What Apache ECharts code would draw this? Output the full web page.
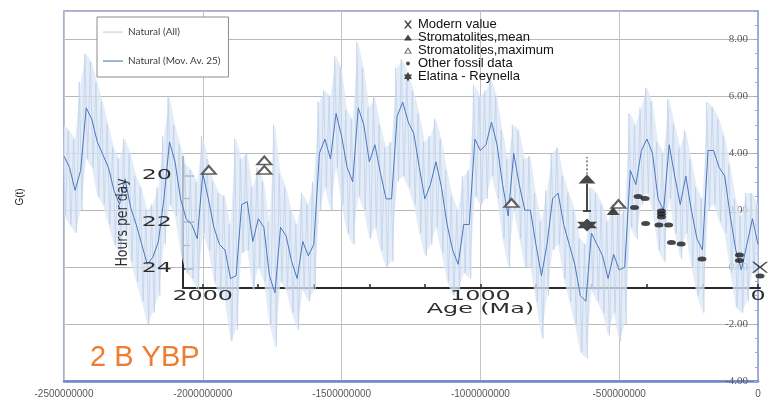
<!DOCTYPE html>
<html>
<head>
<meta charset="utf-8">
<script src="https://cdn.jsdelivr.net/npm/echarts@6/dist/echarts.min.js"></script>
<style>
  html, body { margin: 0; padding: 0; background: #fff; }
  #chart { width: 773px; height: 406px; }
</style>
</head>
<body>
<div id="chart"></div>
<script>
// G(t) samples every 20 Myr, from 2500 Ma ago to the present
const sampleStartMa = -2500;
const sampleStepMa = 20;

// 25-point moving average
const gMovAv = [
  3.9, 3.5, 2.7, 3.4, 5.6, 5.2, 4.4, 3.95, 3.5, 2.7,
  2.2, 3.1, 2.1, 1.5, 0.8, 0.1, 0.35, 0.9, 2.4, 4.4,
  3.7, 2.4, 1.7, 1.5, 1.0, 3.3, 2.4, 1.4, 0.8, 0.6,
  -0.4, -0.3, 2.2, 2.3, 0.9, 1.7, 1.4, -0.3, -0.9, 1.4,
  1.1, 0.2, -0.4, 0.9, 0.4, 0.8, 4.0, 4.5, 3.8, 5.4,
  4.6, 3.5, 3.0, 5.6, 5.0, 3.7, 4.3, 3.3, 2.4, 2.4,
  5.3, 5.8, 5.1, 4.7, 3.5, 2.4, 2.9, 3.7, 2.8, 1.5,
  0.6, 0.1, 1.5, 1.5, 4.5, 4.1, 4.3, 5.1, 4.3, 2.9,
  1.8, 4.0, 2.9, 2.0, 2.0, 0.8, -0.3, 0.8, 2.4, 2.6,
  1.5, 0.8, 0.1, -1.0, -1.2, 1.2, 0.8, 0.4, -0.4, 0.45,
  -0.1, 0.0, 3.4, 2.9, 4.1, 4.5, 4.0, 2.4, 2.0, 4.3,
  3.2, 2.2, 3.2, 2.0, 1.0, 0.6, 4.1, 4.1, 3.5, 3.2,
  1.8, 0.6, -0.1, 0.8, 1.7, 0.8
];

// Full series: upper and lower swing within each sample step
const gAllHigh = [
  5.0, 4.8, 4.5, 6.5, 7.5, 7.2, 6.5, 5.8, 5.0, 4.2,
  3.8, 4.5, 4.0, 3.2, 2.8, 2.0, 2.2, 2.8, 4.6, 6.0,
  5.0, 4.3, 3.6, 3.4, 3.0, 4.6, 3.8, 3.0, 2.6, 2.5,
  1.5, 4.5, 3.8, 4.0, 2.8, 3.5, 3.0, 1.6, 5.0, 3.3,
  2.8, 2.0, 1.5, 2.6, 2.2, 3.0, 5.8, 6.2, 6.0, 7.4,
  7.0, 5.5, 5.2, 7.9, 7.0, 5.6, 6.0, 5.0, 4.2, 4.4,
  7.0, 7.3, 6.8, 6.2, 5.4, 4.4, 4.6, 5.2, 4.5, 3.4,
  2.5, 2.0, 3.2, 3.4, 6.4, 6.0, 6.2, 6.6, 6.0, 4.8,
  3.8, 5.0, 4.8, 3.8, 3.9, 2.6, 1.6, 2.7, 4.0, 4.2,
  3.2, 2.6, 2.0, 1.0, 0.8, 2.8, 2.6, 2.2, 1.6, 2.2,
  1.8, 2.0, 5.4, 5.0, 5.6, 6.3, 5.8, 4.4, 4.0, 5.9,
  5.0, 4.2, 4.8, 3.8, 2.8, 2.4, 5.8, 5.6, 5.2, 4.6,
  3.6, 2.4, 1.8, 2.6, 2.6, 2.2
];
const gAllLow = [
  1.8, 1.5, 1.2, 2.0, 3.8, 3.5, 2.5, 2.2, 1.5, 0.8,
  0.5, 1.2, 0.2, -0.5, -1.2, -2.0, -1.6, -1.0, 0.8, 2.2,
  1.8, 0.5, -0.2, -0.4, -0.8, 1.2, 0.6, -0.5, -1.0, -1.2,
  -2.6, -2.2, 0.5, 0.6, -0.8, 0.0, -0.5, -2.0, -2.8, -0.5,
  -0.8, -1.6, -2.2, -0.8, -1.2, -0.8, 2.0, 2.8, 2.0, 3.5,
  2.2, 1.2, 0.8, 2.5, 2.0, 1.0, 1.4, 0.6, 0.0, 0.2,
  3.0, 3.2, 2.8, 2.2, 1.2, 0.4, 0.8, 1.4, 0.5, -0.5,
  -1.0, -0.8, -0.2, -0.4, 2.5, 2.2, 2.4, 3.2, 2.4, 1.0,
  0.0, 2.0, 1.0, 0.0, 0.0, -1.2, -2.5, -1.0, 0.6, 0.8,
  -0.4, -1.2, -2.0, -3.0, -3.2, -0.8, -1.2, -1.6, -2.4, -1.6,
  -2.6, -2.0, 1.4, 1.0, 2.2, 2.6, 2.0, 0.6, 0.2, 2.4,
  1.2, 0.3, 1.2, 0.0, -1.0, -1.6, 2.0, 2.2, 1.6, 1.2,
  -0.2, -1.4, -1.6, -1.2, -0.2, -0.4
];

// Fossil length-of-day record: [age Ma, hours per day]
const modernValue = [[-7, 23.95]];
const stromatoliteMean = [[522, 21.53]];
const stromatoliteArrowHead = [[616, 20.15]];
const stromatoliteMax = [[1978, 19.76], [1778, 19.35], [1778, 19.76], [888, 21.18], [503, 21.23]];
const otherFossil = [
  [445, 21.38], [432, 20.9], [407, 20.99], [405, 22.07],
  [348, 21.53], [348, 21.66], [348, 21.79], [357, 22.13], [322, 22.13],
  [312, 22.89], [277, 22.95], [202, 23.6], [67, 23.43], [67, 23.66], [-7, 24.33]
];
const elatinaReynella = [[616, 22.13]];
const arrowStem = [[616, 21.53], [616, 20.35]];
const arrowTail = [[616, 19.95], [616, 19.2]];

const hourTicksMajor = [20, 22, 24];
const hourTicksMinor = [21, 23];
const ageTicks = [0, 200, 400, 600, 800, 1000, 1200, 1400, 1600, 1800, 2000];
const ageLabels = [2000, 1000, 0];

const MYR = 1e6;
const sampleAge = i => (sampleStartMa + i * sampleStepMa) * MYR;
const movAvPoints = gMovAv.map((g, i) => [sampleAge(i), g]);
const bandRows = gAllHigh.map((hi, i) => [sampleAge(i), gAllLow[i], hi]);
const allPoints = [];
gAllHigh.forEach((hi, i) => {
  allPoints.push([sampleAge(i) - sampleStepMa / 4 * MYR, hi]);
  allPoints.push([sampleAge(i) + sampleStepMa / 4 * MYR, gAllLow[i]]);
});

const SYM_X = 'path://M0,0L2.5,0L10,6L17.5,0L20,0L11.8,7L20,14L17.5,14L10,8L2.5,14L0,14L8.2,7Z';
const SYM_STAR = 'path://M10,0L20,15L0,15ZM0,5L20,5L10,20Z';
const ICON_LINE = 'path://M0,0M20,12M0,5.5L20,5.5L20,6.6L0,6.6Z';
const ICON_X = 'path://M0,0M10,10M1,1L2.8,1L5,3.8L7.2,1L9,1L6,5L9,9L7.2,9L5,6.2L2.8,9L1,9L4,5Z';
const ICON_TRI = 'path://M0,0M10,10M5,2L9,8L1,8Z';
const ICON_TRI_OPEN = 'path://M0,0M10,10M5,2L9,8L1,8ZM5,3.8L2.7,7.3L7.3,7.3Z';
const ICON_DOT = 'path://M0,0M10,10M5,3L6.4,3.6L7,5L6.4,6.4L5,7L3.6,6.4L3,5L3.6,3.6Z';
const ICON_STAR = 'path://M0,0M10,10M5,0.5L9,7.5L1,7.5ZM1,3L9,3L5,10Z';

const INK = '#1a1a1a';
const insetGrid = { left: 183, right: 13, top: 157, bottom: 118, show: false };
const insetSeries = (extra) => Object.assign({ xAxisIndex: 1, yAxisIndex: 1, z: 5 }, extra);
const hoursRange = { min: 19.2, max: 24.85, inverse: true };

const chart = echarts.init(document.getElementById('chart'), null, { renderer: 'canvas' });

const option = {
  animation: false,
  backgroundColor: '#fff',
  grid: [
    { left: 64, right: 15, top: 11, bottom: 25, show: true, borderColor: '#8296d4', borderWidth: 1.5 },
    insetGrid,
    Object.assign({}, insetGrid)
  ],
  legend: [
    {
      data: [
        { name: 'Natural (All)', icon: ICON_LINE },
        { name: 'Natural (Mov. Av. 25)', icon: ICON_LINE }
      ],
      orient: 'vertical', left: 97, top: 17,
      itemWidth: 20, itemHeight: 12, itemGap: 17,
      padding: [9, 8, 10, 6],
      borderColor: '#8c8c8c', borderWidth: 1, backgroundColor: '#fff',
      selectedMode: false,
      textStyle: { fontFamily: 'Lato', fontSize: 10, color: '#404040' }
    },
    {
      data: [
        { name: 'Modern value', icon: ICON_X },
        { name: 'Stromatolites,mean', icon: ICON_TRI },
        { name: 'Stromatolites,maximum', icon: ICON_TRI_OPEN },
        { name: 'Other fossil data', icon: ICON_DOT },
        { name: 'Elatina - Reynella', icon: ICON_STAR }
      ],
      orient: 'vertical', left: 403, top: 18,
      itemWidth: 10, itemHeight: 10, itemGap: 0, padding: 0,
      selectedMode: false,
      textStyle: { fontFamily: 'Liberation Sans', fontSize: 13, color: '#111', lineHeight: 13 }
    }
  ],
  xAxis: [
    {
      type: 'value', gridIndex: 0, min: -2.5e9, max: 0, interval: 5e8,
      axisLine: { show: true, onZero: false, lineStyle: { color: '#6f86cc', width: 2.5 } },
      axisTick: { show: false },
      axisLabel: { formatter: v => String(v), color: '#595959', fontFamily: 'Liberation Sans', fontSize: 10, margin: 8 },
      splitLine: { show: true, lineStyle: { color: '#c4c4c4', width: 1 } }
    },
    {
      type: 'value', gridIndex: 1, min: -7, max: 2071, inverse: true, position: 'bottom',
      axisLine: { show: true, onZero: false, lineStyle: { color: '#2a2a2a', width: 2 } },
      axisTick: { show: true, inside: true, length: 4, customValues: ageTicks, lineStyle: { color: '#2a2a2a', width: 1.5 } },
      axisLabel: { show: false },
      splitLine: { show: false }
    },
    {
      type: 'value', gridIndex: 2, min: -7, max: 2071, inverse: true, show: false,
      axisLine: { onZero: false }
    }
  ],
  yAxis: [
    {
      type: 'value', gridIndex: 0, position: 'right', min: -4, max: 9, interval: 2,
      axisLine: { show: true, lineStyle: { color: '#9aa8d6' } },
      axisTick: { show: true, inside: true, length: 4, lineStyle: { color: '#9aa8d6' } },
      minorTick: { show: true, splitNumber: 4, length: 3, lineStyle: { color: '#9aa8d6' } },
      axisLabel: { inside: true, showMaxLabel: false, formatter: v => v.toFixed(2), color: '#595959', fontFamily: 'Liberation Serif', fontSize: 11, margin: 10 },
      splitLine: { show: true, lineStyle: { color: '#b8b8b8', width: 1 } }
    },
    Object.assign({
      type: 'value', gridIndex: 1, position: 'left',
      axisLine: { show: true, onZero: false, lineStyle: { color: '#2a2a2a', width: 2 } },
      axisTick: { show: true, inside: true, length: 11, customValues: hourTicksMajor, lineStyle: { color: '#2a2a2a', width: 1.5 } },
      axisLabel: { show: false },
      splitLine: { show: false }
    }, hoursRange),
    Object.assign({
      // short ticks for the odd hours
      type: 'value', gridIndex: 2, position: 'left',
      axisLine: { show: false, onZero: false },
      axisTick: { show: true, inside: true, length: 7, customValues: hourTicksMinor, lineStyle: { color: '#2a2a2a', width: 1.2 } },
      axisLabel: { show: false },
      splitLine: { show: false }
    }, hoursRange)
  ],
  series: [
    {
      // envelope of the full series
      name: 'band', type: 'custom', xAxisIndex: 0, yAxisIndex: 0, silent: true, z: 1,
      data: bandRows,
      encode: { x: 0, y: [1, 2] },
      renderItem: (params, api) => {
        if (params.dataIndex !== 0) return null;
        const upper = bandRows.map(r => api.coord([r[0], r[2]]));
        const lower = bandRows.map(r => api.coord([r[0], r[1]])).reverse();
        return {
          type: 'polygon',
          shape: { points: upper.concat(lower) },
          style: { fill: '#dbe6f4', opacity: 0.75 }
        };
      }
    },
    {
      name: 'Natural (All)', type: 'line', data: allPoints,
      symbol: 'none', showSymbol: false, sampling: null,
      lineStyle: { color: '#bccee9', width: 0.7 }, itemStyle: { color: '#bccee9' }, z: 2
    },
    {
      name: 'Natural (Mov. Av. 25)', type: 'line', data: movAvPoints,
      symbol: 'none', showSymbol: false,
      lineStyle: { color: '#4a78bd', width: 1 }, itemStyle: { color: '#4a78bd' }, z: 3
    },
    insetSeries({
      name: 'arrow stem', type: 'line',
      data: [
        { value: arrowStem[0], symbol: 'rect', symbolSize: [8, 1.5] },
        { value: arrowStem[1], symbol: 'none' }
      ],
      showSymbol: true, lineStyle: { color: INK, width: 1.6 }, itemStyle: { color: INK }
    }),
    insetSeries({
      name: 'arrow tail', type: 'line', data: arrowTail, symbol: 'none',
      lineStyle: { color: INK, width: 1, type: [2, 2] }
    }),
    insetSeries({
      name: 'Modern value', type: 'scatter', data: modernValue, clip: false,
      symbol: SYM_X, symbolSize: [16, 11], itemStyle: { color: INK }
    }),
    insetSeries({
      name: 'Stromatolites,mean', type: 'scatter', clip: false,
      data: stromatoliteMean.map(p => ({ value: p, symbolSize: [13, 8] }))
        .concat(stromatoliteArrowHead.map(p => ({ value: p, symbolSize: [17, 9] }))),
      symbol: 'triangle', itemStyle: { color: INK }
    }),
    insetSeries({
      name: 'Stromatolites,maximum', type: 'scatter', data: stromatoliteMax, clip: false,
      symbol: 'emptyTriangle', symbolSize: [14, 8], itemStyle: { color: '#3a3a3a' }
    }),
    insetSeries({
      name: 'Other fossil data', type: 'scatter', data: otherFossil, clip: false,
      symbol: 'circle', symbolSize: [9, 5], itemStyle: { color: INK }
    }),
    insetSeries({
      name: 'Elatina - Reynella', type: 'scatter', data: elatinaReynella, clip: false,
      symbol: SYM_STAR, symbolSize: [20, 13], itemStyle: { color: INK }
    })
  ]
};

chart.setOption(option);

// Text of the overlaid length-of-day panel, placed through its own axes
const px = v => chart.convertToPixel({ xAxisIndex: 1 }, v);
const py = v => chart.convertToPixel({ yAxisIndex: 1 }, v);
const insetFont = '14px "DejaVu Sans"';
const stretch = 1.7;
const axisLeft = px(2071);
const axisBottom = py(24.85);
const graphics = [];

hourTicksMajor.forEach(h => graphics.push({
  type: 'text', x: axisLeft - 11, y: py(h), scaleX: stretch, z: 20,
  style: { text: String(h), font: insetFont, fill: '#2e2e2e', align: 'right', verticalAlign: 'middle' }
}));
ageLabels.forEach(a => graphics.push({
  type: 'text', x: px(a), y: axisBottom + 1, scaleX: stretch, z: 20,
  style: { text: String(a), font: insetFont, fill: '#2e2e2e', align: 'center', verticalAlign: 'top' }
}));
graphics.push({
  type: 'text', x: px(1000), y: axisBottom + 14, scaleX: stretch, z: 20,
  style: { text: 'Age (Ma)', font: insetFont, fill: '#2e2e2e', align: 'center', verticalAlign: 'top' }
});
graphics.push({
  type: 'text', x: axisLeft - 60, y: (py(19.2) + axisBottom) / 2, rotation: Math.PI / 2, scaleX: 0.78, z: 20,
  style: { text: 'Hours per day', font: '16px "DejaVu Sans"', fill: '#2e2e2e', align: 'center', verticalAlign: 'middle' }
});
graphics.push({
  type: 'text', x: 20, y: 197, rotation: Math.PI / 2, z: 20,
  style: { text: 'G(t)', font: '10px "Liberation Sans"', fill: '#222', align: 'center', verticalAlign: 'middle' }
});
graphics.push({
  type: 'text', x: 90, y: 358, z: 20,
  style: { text: '2 B YBP', font: '29px "Liberation Sans"', fill: '#ed7d31', align: 'left', verticalAlign: 'middle' }
});

chart.setOption({ graphic: graphics });
</script>
</body>
</html>
